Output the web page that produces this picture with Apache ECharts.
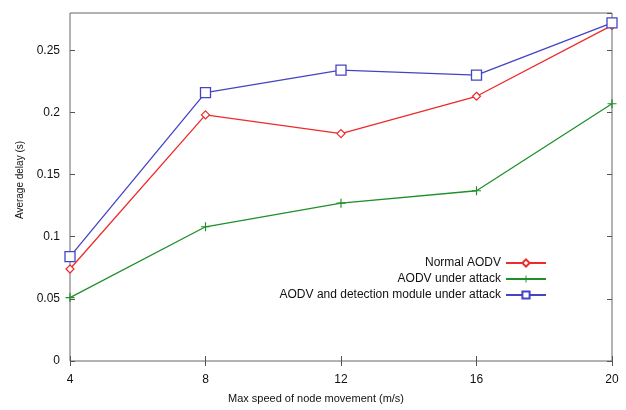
<!DOCTYPE html>
<html>
<head>
<meta charset="utf-8">
<script src="https://cdn.jsdelivr.net/npm/echarts@6/dist/echarts.min.js"></script>
<style>
  html, body { margin: 0; padding: 0; background: #fff; }
  #chart { width: 626px; height: 410px; }
</style>
</head>
<body>
<div id="chart"></div>
<script>
const speeds = [4, 8, 12, 16, 20];
const normalAodv = [0.074, 0.198, 0.183, 0.213, 0.270];
const aodvAttack = [0.051, 0.108, 0.127, 0.137, 0.207];
const aodvDetection = [0.084, 0.216, 0.234, 0.230, 0.272];
const yTicks = [0, 0.05, 0.1, 0.15, 0.2, 0.25];

const font = "Liberation Sans, Arial, sans-serif";
const plusPath = "path://M4,0h1.2v4h4v1.2h-4v4h-1.2v-4h-4v-1.2h4z";

const chart = echarts.init(document.getElementById("chart"));

const pairs = (vals) => speeds.map((s, i) => [s, vals[i]]);

const tickStyle = { show: true, inside: true, length: 5, lineStyle: { color: "#555" } };

const option = {
  animation: false,
  textStyle: { fontFamily: font },
  grid: {
    left: 70,
    right: 14,
    top: 13,
    bottom: 49,
    containLabel: false,
    outerBoundsMode: "none",
    show: true,
    borderColor: "#666",
    borderWidth: 1,
  },
  legend: {
    orient: "vertical",
    right: 79,
    top: 257,
    padding: 0,
    align: "right",
    itemWidth: 40,
    itemHeight: 9,
    itemGap: 4,
    textStyle: { fontFamily: font, fontSize: 12, color: "#111" },
    data: ["Normal AODV", "AODV under attack", "AODV and detection module under attack"],
  },
  xAxis: [
    {
      type: "value",
      min: 4,
      max: 20,
      interval: 4,
      name: "Max speed of node movement (m/s)",
      nameLocation: "middle",
      nameGap: 32,
      nameTextStyle: { fontSize: 11, color: "#111", padding: [0, 50, 0, 0] },
      axisLine: { show: false },
      axisTick: tickStyle,
      axisLabel: { fontSize: 12, color: "#111", margin: 13 },
      splitLine: { show: false },
    },
    {
      type: "value",
      position: "top",
      min: 4,
      max: 20,
      interval: 4,
      axisLine: { show: false },
      axisTick: tickStyle,
      axisLabel: { show: false },
      splitLine: { show: false },
    },
  ],
  yAxis: [
    {
      type: "value",
      min: 0,
      max: 0.28,
      interval: 0.05,
      name: "Average delay (s)",
      nameLocation: "middle",
      nameGap: 44,
      nameTextStyle: { fontSize: 10, color: "#111", padding: [0, 0, 0, 14] },
      axisLine: { show: false },
      axisTick: tickStyle,
      axisLabel: {
        fontSize: 12,
        color: "#111",
        margin: 10,
        showMaxLabel: false,
        formatter: (v) => (yTicks.some((t) => Math.abs(t - v) < 1e-9) ? String(+v.toFixed(2)) : ""),
      },
      splitLine: { show: false },
    },
    {
      type: "value",
      position: "right",
      min: 0,
      max: 0.28,
      interval: 0.05,
      axisLine: { show: false },
      axisTick: tickStyle,
      axisLabel: { show: false },
      splitLine: { show: false },
    },
  ],
  series: [
    {
      name: "Normal AODV",
      type: "line",
      data: pairs(normalAodv),
      symbol: "diamond",
      symbolSize: 8,
      lineStyle: { color: "#ee2a2a", width: 1.3 },
      itemStyle: { color: "#fff", borderColor: "#ee2a2a", borderWidth: 1.2 },
      z: 3,
    },
    {
      name: "AODV under attack",
      type: "line",
      data: pairs(aodvAttack),
      symbol: plusPath,
      symbolSize: 9,
      lineStyle: { color: "#1f8f2a", width: 1.3 },
      itemStyle: { color: "#1f8f2a" },
      z: 2,
    },
    {
      name: "AODV and detection module under attack",
      type: "line",
      data: pairs(aodvDetection),
      symbol: "rect",
      symbolSize: 10,
      lineStyle: { color: "#4444c4", width: 1.3 },
      itemStyle: { color: "#fff", borderColor: "#4444c4", borderWidth: 1.3 },
      z: 4,
    },
  ],
};

chart.setOption(option);
</script>
</body>
</html>
